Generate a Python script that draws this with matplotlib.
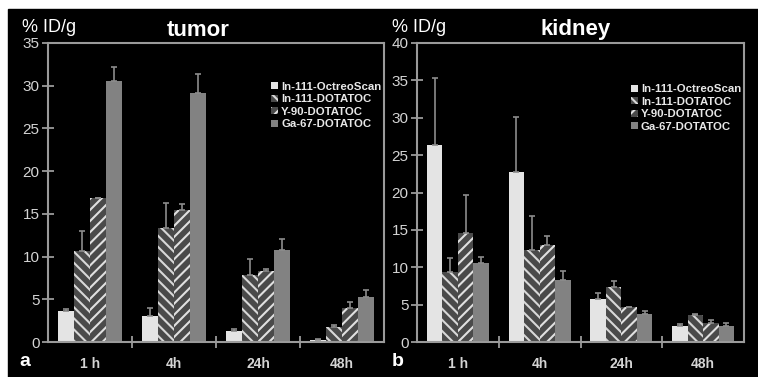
import numpy as np
import matplotlib
matplotlib.use("Agg")
import matplotlib.pyplot as plt
from matplotlib.patches import Rectangle

plt.rcParams['font.family'] = ['Liberation Sans', 'DejaVu Sans']
plt.rcParams['hatch.linewidth'] = 1.5

# data
timepoints = ['1 h', '4h', '24h', '48h']
tracers = ['In-111-OctreoScan', 'In-111-DOTATOC', 'Y-90-DOTATOC', 'Ga-67-DOTATOC']

tumor_octreo = [3.6, 3.1, 1.3, 0.2]
tumor_in_dota = [10.7, 13.4, 7.9, 1.8]
tumor_y_dota = [16.8, 15.4, 8.3, 4.0]
tumor_ga_dota = [30.6, 29.2, 10.8, 5.3]
tumor_octreo_sd = [0.3, 0.9, 0.2, 0.1]
tumor_in_dota_sd = [2.3, 2.9, 1.8, 0.2]
tumor_y_dota_sd = [0.0, 0.8, 0.3, 0.7]
tumor_ga_dota_sd = [1.6, 2.2, 1.2, 0.8]

kidney_octreo = [26.4, 22.8, 5.8, 2.2]
kidney_in_dota = [9.4, 12.3, 7.3, 3.6]
kidney_y_dota = [14.6, 13.0, 4.7, 2.5]
kidney_ga_dota = [10.6, 8.3, 3.8, 2.2]
kidney_octreo_sd = [8.9, 7.3, 0.8, 0.2]
kidney_in_dota_sd = [1.8, 4.5, 0.8, 0.2]
kidney_y_dota_sd = [5.1, 1.2, 0.0, 0.5]
kidney_ga_dota_sd = [0.8, 1.2, 0.4, 0.4]

bg = 'black'
axis_col = '#9a9a9a'
text_col = '#d4d4d4'

styles = [
    dict(color='#e4e4e4', hatch=None, edge='#e4e4e4'),
    dict(color='#4a4a4a', hatch='\\\\\\', edge='#d8d8d8'),
    dict(color='#4a4a4a', hatch='///', edge='#e0e0e0'),
    dict(color='#828282', hatch=None, edge='#828282'),
]


def draw_panel(ax, series, errors, ymax, legend_anchor):
    ax.set_facecolor(bg)
    x = np.arange(len(timepoints))
    w = 0.19
    handles = []
    for i, (vals, sd) in enumerate(zip(series, errors)):
        pos = x + (i - 1.5) * w
        st = styles[i]
        b = ax.bar(pos, vals, w, color=st['color'], hatch=st['hatch'],
                   edgecolor=st['edge'], linewidth=0, label=tracers[i])
        ax.errorbar(pos, vals, yerr=[np.zeros(len(sd)), sd], fmt='none',
                    ecolor='#8c8c8c', elinewidth=1.2, capsize=2.5, capthick=1.2)
        handles.append(b)
    ax.set_xlim(-0.5, len(timepoints) - 0.5)
    ax.set_ylim(0, ymax)
    ax.set_yticks(np.arange(0, ymax + 1, 5))
    ax.set_xticks(np.arange(0.5, len(timepoints) - 0.5, 1))
    ax.set_xticklabels([])
    for s in ax.spines.values():
        s.set_color(axis_col)
        s.set_linewidth(1.5)
    ax.tick_params(axis='y', direction='inout', length=8, width=1.3,
                   color=axis_col, labelcolor=text_col, labelsize=11, pad=2)
    ax.tick_params(axis='x', direction='inout', length=8, width=1.3,
                   color=axis_col)
    for xi, lab in zip(x, timepoints):
        ax.text(xi, -0.075, lab, transform=ax.get_xaxis_transform(),
                ha='center', va='center', color=text_col, fontsize=10,
                fontweight='bold')
    leg = ax.legend(handles=handles, loc='upper left', bbox_to_anchor=legend_anchor,
                    frameon=False, fontsize=8.2, handlelength=0.6, handleheight=0.6,
                    handletextpad=0.25, labelspacing=0.22, borderaxespad=0,
                    borderpad=0)
    for t in leg.get_texts():
        t.set_color('#e8e8e8')
        t.set_fontweight('bold')


fig = plt.figure(figsize=(7.58, 3.77), dpi=100)
fig.patch.set_facecolor('white')
fig.patches.append(Rectangle((8 / 758, 0), 1, (377 - 9) / 377,
                             transform=fig.transFigure, color=bg, zorder=-10))

ax1 = fig.add_axes([48 / 758, 35 / 377, 336 / 758, 299 / 377])
ax2 = fig.add_axes([417 / 758, 35 / 377, 327 / 758, 299 / 377])

draw_panel(ax1,
           [tumor_octreo, tumor_in_dota, tumor_y_dota, tumor_ga_dota],
           [tumor_octreo_sd, tumor_in_dota_sd, tumor_y_dota_sd, tumor_ga_dota_sd],
           35, (0.665, 0.87))
draw_panel(ax2,
           [kidney_octreo, kidney_in_dota, kidney_y_dota, kidney_ga_dota],
           [kidney_octreo_sd, kidney_in_dota_sd, kidney_y_dota_sd, kidney_ga_dota_sd],
           40, (0.655, 0.862))

fig.text(22 / 758, 1 - 27 / 377, '% ID/g', color='white', fontsize=13,
         ha='left', va='center')
fig.text(392 / 758, 1 - 27 / 377, '% ID/g', color='white', fontsize=13,
         ha='left', va='center')
fig.text(198 / 758, 1 - 30 / 377, 'tumor', color='white', fontsize=16,
         fontweight='bold', ha='center', va='center')
fig.text(576 / 758, 1 - 30 / 377, 'kidney', color='white', fontsize=16,
         fontweight='bold', ha='center', va='center')
fig.text(25 / 758, 1 - 362 / 377, 'a', color='white', fontsize=14,
         fontweight='bold', ha='center', va='center')
fig.text(398 / 758, 1 - 362 / 377, 'b', color='white', fontsize=14,
         fontweight='bold', ha='center', va='center')

fig.savefig('out.png', dpi=100, facecolor=fig.get_facecolor())
